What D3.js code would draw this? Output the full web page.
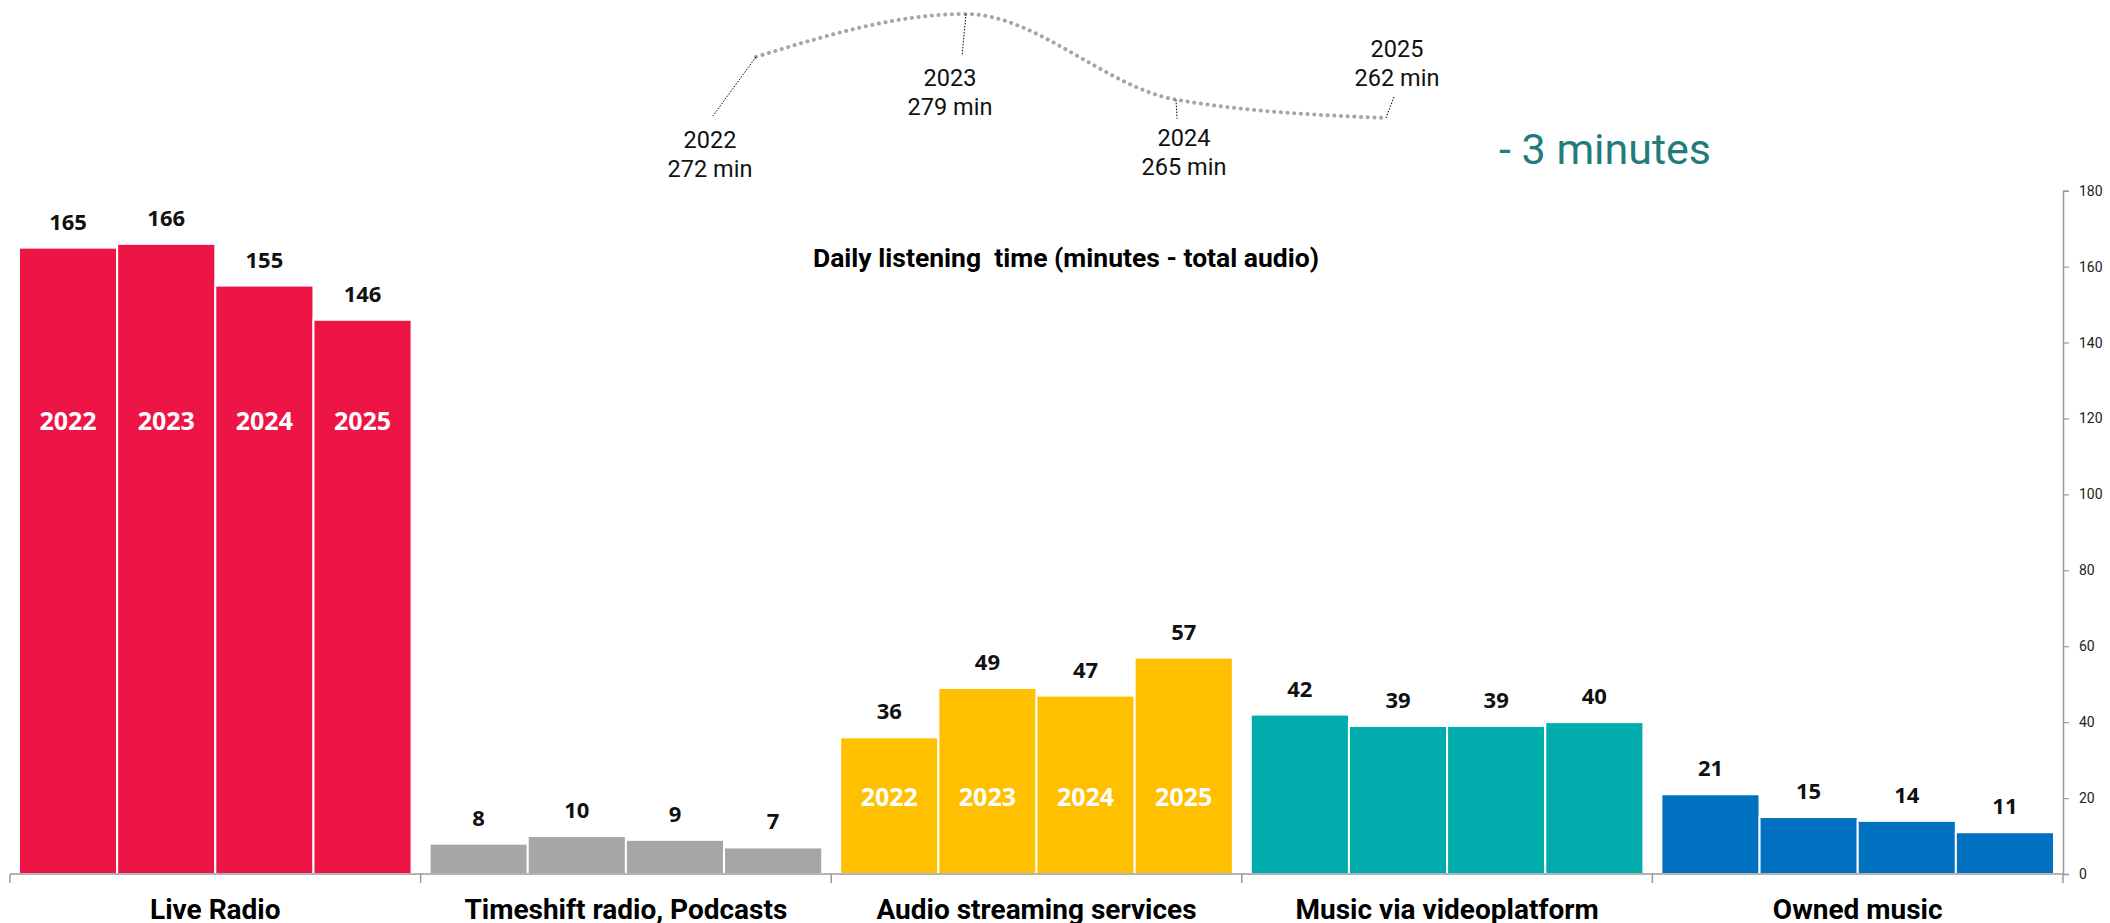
<!DOCTYPE html>
<html><head><meta charset="utf-8">
<script src="https://cdn.jsdelivr.net/npm/d3@7"></script>
<style>body{margin:0;background:#fff;overflow:hidden}</style>
</head><body>
<svg id="chart" width="2110" height="923"></svg>
<script>
// ---- data ----
const categories = ["Live Radio", "Timeshift radio, Podcasts", "Audio streaming services", "Music via videoplatform", "Owned music"];
const years = ["2022", "2023", "2024", "2025"];
const liveRadio = [165, 166, 155, 146];
const timeshiftPodcasts = [8, 10, 9, 7];
const audioStreaming = [36, 49, 47, 57];
const musicVideoplatform = [42, 39, 39, 40];
const ownedMusic = [21, 15, 14, 11];
const categoryColors = ["#ED1446", "#A6A6A6", "#FFC000", "#00ACAC", "#0070C0"];
const yTickValues = [0, 20, 40, 60, 80, 100, 120, 140, 160, 180];
const totalYears = ["2022", "2023", "2024", "2025"];
const totalMinutes = [272, 279, 265, 262];
const titleText = "Daily listening  time (minutes - total audio)";
const changeText = "- 3 minutes";

const seriesByCategory = [liveRadio, timeshiftPodcasts, audioStreaming, musicVideoplatform, ownedMusic];

// ---- layout ----
const svg = d3.select("#chart");
const x = d3.scaleBand().domain(categories).range([10, 2063]).padding(0);
const y = d3.scaleLinear().domain([0, 180]).range([874, 190.7]);
const inset = 9;
const xi = d3.scaleBand().domain(years).range([inset, x.bandwidth() - inset]).padding(0);

// bars
const groups = svg.selectAll("g.cat").data(categories).join("g")
  .attr("class", "cat")
  .attr("transform", d => `translate(${x(d)},0)`);

groups.each(function(cat, ci) {
  const g = d3.select(this);
  const vals = seriesByCategory[ci].map((v, i) => ({year: years[i], v}));
  g.selectAll("rect").data(vals).join("rect")
    .attr("x", d => xi(d.year))
    .attr("y", d => y(d.v))
    .attr("width", xi.bandwidth())
    .attr("height", d => y(0) - y(d.v))
    .attr("fill", categoryColors[ci])
    .attr("stroke", "#fff")
    .attr("stroke-width", 2);
  g.selectAll("text.val").data(vals).join("text")
    .attr("class", "val")
    .attr("x", d => xi(d.year) + xi.bandwidth() / 2)
    .attr("y", d => y(d.v) - 18)
    .attr("text-anchor", "middle")
    .attr("font-family", "'Open Sans', Roboto, sans-serif")
    .attr("font-weight", "bold")
    .attr("font-size", 22)
    .attr("fill", "#111")
    .text(d => d.v);
});

// year labels inside bars (Live Radio & Audio streaming)
const yearLabelLevels = new Map([[categories[0], 117], [categories[2], 18]]);
yearLabelLevels.forEach((lvl, cat) => {
  svg.append("g").attr("transform", `translate(${x(cat)},0)`)
    .selectAll("text").data(years).join("text")
    .attr("x", d => xi(d) + xi.bandwidth() / 2)
    .attr("y", y(lvl))
    .attr("text-anchor", "middle")
    .attr("font-family", "'Open Sans', Roboto, sans-serif")
    .attr("font-weight", "bold")
    .attr("font-size", 25)
    .attr("fill", "#fff")
    .text(d => d);
});

// bottom axis
const xAxisG = svg.append("g").attr("transform", "translate(0,874)");
xAxisG.append("line").attr("x1", x.range()[0]).attr("x2", x.range()[1])
  .attr("stroke", "#9a9a9a").attr("stroke-width", 1.5);
const bounds = categories.map(c => x(c)).concat([x.range()[1]]);
xAxisG.selectAll("line.tk").data(bounds).join("line").attr("class", "tk")
  .attr("x1", d => d).attr("x2", d => d).attr("y1", 0).attr("y2", 9)
  .attr("stroke", "#9a9a9a").attr("stroke-width", 1.5);
xAxisG.selectAll("text").data(categories).join("text")
  .attr("x", d => x(d) + x.bandwidth() / 2)
  .attr("y", 45)
  .attr("text-anchor", "middle")
  .attr("font-family", "Roboto, sans-serif")
  .attr("font-weight", "bold")
  .attr("font-size", 28)
  .attr("fill", "#000")
  .text(d => d);

// right axis
const yAxis = d3.axisRight(y).tickValues(yTickValues).tickSize(6).tickPadding(10);
const yAxisG = svg.append("g").attr("transform", "translate(2063,0)").call(yAxis);
yAxisG.select(".domain").attr("stroke", "#9a9a9a").attr("stroke-width", 1.5);
yAxisG.selectAll(".tick line").attr("stroke", "#9a9a9a").attr("stroke-width", 1.2);
yAxisG.selectAll(".tick text").attr("font-family", "Roboto, sans-serif")
  .attr("font-size", 14).attr("fill", "#222");

// title
svg.append("text")
  .attr("x", 1066).attr("y", 267)
  .attr("text-anchor", "middle")
  .attr("font-family", "Roboto, sans-serif")
  .attr("font-weight", "bold")
  .attr("font-size", 26.5)
  .style("white-space", "pre")
  .attr("fill", "#000")
  .text(titleText);

// change label
svg.append("text")
  .attr("x", 1499).attr("y", 164)
  .attr("font-family", "Roboto, sans-serif")
  .attr("font-size", 43)
  .attr("fill", "#237C7C")
  .text(changeText);

// total trend curve
const tx = d3.scalePoint().domain(totalYears).range([756, 1386]);
const ty = d3.scaleLinear().domain([262, 279]).range([118, 14]);
const pts = totalYears.map((yr, i) => ({yr, v: totalMinutes[i]}));
svg.append("path")
  .attr("d", d3.line().x(d => tx(d.yr)).y(d => ty(d.v)).curve(d3.curveMonotoneX)(pts))
  .attr("fill", "none")
  .attr("stroke", "#A6A6A6")
  .attr("stroke-width", 4)
  .attr("stroke-linecap", "round")
  .attr("stroke-dasharray", "0.1,6.6");

// annotation leaders and labels (offsets relative to each point)
const leaderEnd = [[-43, 59], [-4, 42], [1, 19], [8, -21]];
const labelOff = [[-46, 91], [-16, 72], [8, 46], [11, -61]];
pts.forEach((p, i) => {
  const px = tx(p.yr), py = ty(p.v);
  svg.append("line")
    .attr("x1", px).attr("y1", py)
    .attr("x2", px + leaderEnd[i][0]).attr("y2", py + leaderEnd[i][1])
    .attr("stroke", "#000").attr("stroke-width", 1)
    .attr("stroke-dasharray", "1.5,1.5");
  const t = svg.append("text")
    .attr("text-anchor", "middle")
    .attr("font-family", "Roboto, sans-serif")
    .attr("font-size", 23.5)
    .attr("fill", "#111");
  t.append("tspan").attr("x", px + labelOff[i][0]).attr("y", py + labelOff[i][1]).text(p.yr);
  t.append("tspan").attr("x", px + labelOff[i][0]).attr("dy", 29).text(p.v + " min");
});
</script>
</body></html>
